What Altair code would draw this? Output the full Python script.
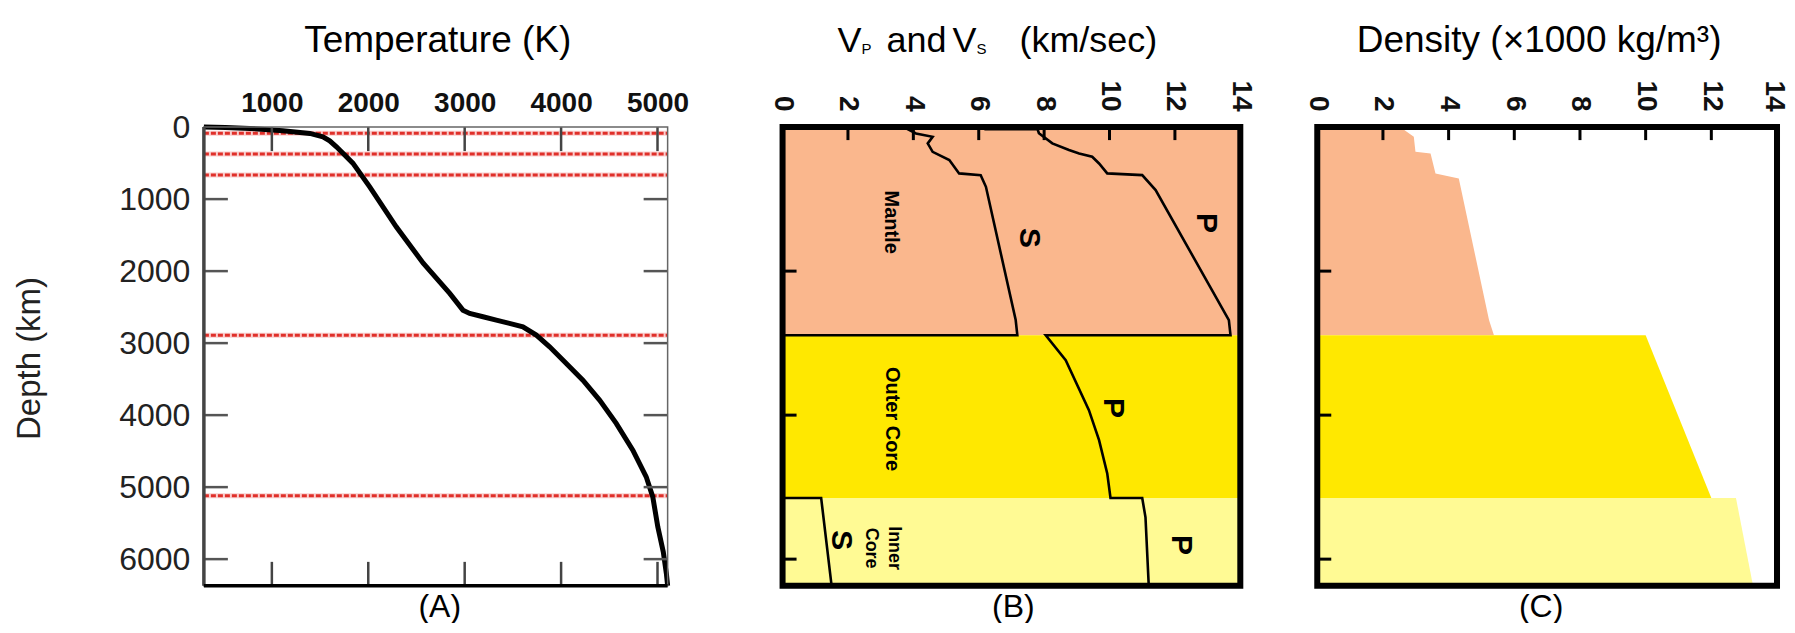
import altair as alt
import pandas as pd

FONT = "Liberation Sans"

# ---------------- data ----------------
# (A) temperature profile
temp_K = [295, 520, 772, 1114, 1394, 1530, 1600, 1670, 1840, 2015, 2290, 2570, 2845, 2982, 3052, 3190,
          3328, 3604, 3743, 3881, 4054, 4226, 4399, 4572, 4744, 4883, 4951, 5003, 5060, 5092, 5105]
temp_depth_km = [0, 6, 18, 51, 88, 134, 190, 273, 500, 830, 1385, 1890, 2310, 2542, 2588, 2634,
                 2680, 2773, 2889, 3051, 3282, 3514, 3792, 4115, 4486, 4857, 5135, 5551, 5900, 6200, 6371]
boundary_depth_km = [85, 375, 665, 2890, 5120]
temp_ticks = [1000, 2000, 3000, 4000, 5000]
depth_labels = [0, 1000, 2000, 3000, 4000, 5000, 6000]
depth_ticks_A = [1000, 2000, 3000, 4000, 5000, 6000]

# (B) seismic velocities
layer_names = ["Mantle", "Outer Core", "Inner Core"]
layer_top_km = [0, 2890, 5150]
layer_bottom_km = [2890, 5150, 6371]
layer_colors = ["#FAB78D", "#FFE800", "#FFFA94"]

vp_depth_km = [0, 30, 30, 85, 226, 319, 366, 412, 505, 643, 667, 875, 2680, 2890, 2890, 3236, 3931,
               4347, 4810, 5150, 5150, 5420, 6371]
vp_kms = [6.0, 6.2, 7.8, 7.84, 8.25, 8.76, 9.07, 9.47, 9.68, 9.93, 11.0, 11.41, 13.65, 13.7, 8.05,
          8.66, 9.37, 9.68, 9.93, 10.03, 11.0, 11.1, 11.2]
vs_depth_km = [0, 18, 88, 134, 227, 343, 458, 643, 667, 829, 2680, 2889, 2890, 5150, 5150, 6371]
vs_kms = [3.5, 3.78, 4.08, 4.59, 4.44, 4.59, 5.10, 5.40, 6.06, 6.22, 7.13, 7.18, 0.0, 0.0, 1.18, 1.5]

b_labels = ["Mantle", "S", "P", "Outer Core", "P", "P", "Inner", "Core", "S"]
b_label_v = [3.32, 7.53, 12.96, 3.35, 10.12, 12.2, 3.41, 2.71, 1.8]
b_label_d = [1320, 1540, 1333, 4055, 3900, 5805, 5847, 5847, 5736]
b_label_fs = [20, 30, 30, 20, 30, 30, 18, 18, 30]

vel_ticks = [0, 2, 4, 6, 8, 10, 12, 14]
inner_ticks = [2, 4, 6, 8, 10, 12]
depth_ticks_BC = [2000, 4000, 6000]

# (C) density
rho_mantle_depth = [0, 40, 134, 343, 366, 643, 713, 2680, 2890]
rho_mantle = [2.6, 2.65, 2.94, 2.99, 3.45, 3.60, 4.31, 5.23, 5.38]
rho_outer_depth = [2890, 5150]
rho_outer = [10.0, 12.0]
rho_inner_depth = [5150, 6371]
rho_inner = [12.75, 13.27]

# title pieces for (B)
b_title_parts = ["V", "P", "and", "V", "S", "(km/sec)"]
b_title_x = [55, 79, 104, 170, 194, 237]
b_title_y = [-75, -73, -75, -75, -73, -75]
b_title_fs = [36, 15, 36, 36, 15, 36]

# ---------------- geometry ----------------
WA, WB, WC, H = 464, 458, 460, 459
EXTRA_A = 38


def one():
    return alt.Data(values=[{}])


def txt(text, x, y, size, angle=0, align="center", baseline="alphabetic", weight="normal", color="black"):
    return alt.Chart(one()).mark_text(
        text=text, fontSize=size, angle=angle, align=align, baseline=baseline,
        fontWeight=weight, color=color, font=FONT
    ).encode(x=alt.value(x), y=alt.value(y))


yD = alt.Scale(domain=[0, 6371], reverse=True, nice=False, zero=False)

# ---------------- panel A ----------------
xT = alt.Scale(domain=[295, 5105], range=[0, WA], nice=False, zero=False)
axT = alt.Axis(orient="top", values=temp_ticks, format="d", title=None, ticks=False, tickSize=0,
               domain=False, grid=False, labelFontSize=28, labelFontWeight="bold", labelColor="#111",
               labelPadding=10, labelFlush=False, labelOverlap=False, labelFont=FONT)
axDA = alt.Axis(orient="left", values=depth_labels, format="d", title=None, ticks=False, tickSize=0,
                domain=False, grid=False, labelFontSize=32, labelColor="#222", labelPadding=14,
                labelFlush=False, labelOverlap=False, labelFont=FONT)

anchor = alt.Chart(one()).mark_rule(strokeOpacity=0, strokeWidth=0.01).encode(
    x=alt.value(-196), x2=alt.value(-196), y=alt.value(-119), y2=alt.value(-119))

dfT = pd.DataFrame({"T": temp_K, "d": temp_depth_km, "i": list(range(len(temp_K)))})
dfB = pd.DataFrame({"d": boundary_depth_km})
dfTT = pd.DataFrame({"T": temp_ticks})
dfDT = pd.DataFrame({"d": depth_ticks_A})

red_halo = alt.Chart(dfB).mark_rule(color="#F4A0A0", strokeWidth=5, opacity=0.5).encode(
    y=alt.Y("d:Q", scale=yD, axis=axDA), x=alt.value(0), x2=alt.value(WA))
red = alt.Chart(dfB).mark_rule(color="#E0302A", strokeWidth=3, strokeDash=[5, 2]).encode(
    y=alt.Y("d:Q", scale=yD, axis=axDA), x=alt.value(0), x2=alt.value(WA))
curve = alt.Chart(dfT).mark_line(color="black", strokeWidth=5).encode(
    x=alt.X("T:Q", scale=xT, axis=axT), y=alt.Y("d:Q", scale=yD, axis=axDA), order="i:Q")
tick_top = alt.Chart(dfTT).mark_rule(color="#444", strokeWidth=2.5).encode(
    x=alt.X("T:Q", scale=xT, axis=axT), y=alt.value(0), y2=alt.value(24))
tick_bot = alt.Chart(dfTT).mark_rule(color="#444", strokeWidth=2.5).encode(
    x=alt.X("T:Q", scale=xT, axis=axT), y=alt.value(H - 24), y2=alt.value(H))
tick_left = alt.Chart(dfDT).mark_rule(color="#555", strokeWidth=2.5).encode(
    y=alt.Y("d:Q", scale=yD, axis=axDA), x=alt.value(0), x2=alt.value(24))
tick_right = alt.Chart(dfDT).mark_rule(color="#555", strokeWidth=2.5).encode(
    y=alt.Y("d:Q", scale=yD, axis=axDA), x=alt.value(WA - 24), x2=alt.value(WA))
frameA = alt.Chart(one()).mark_rect(fillOpacity=0, stroke="#666", strokeWidth=1.5).encode(
    x=alt.value(0), x2=alt.value(WA), y=alt.value(0), y2=alt.value(H))
leftA = alt.Chart(one()).mark_rule(color="#444", strokeWidth=3.5).encode(
    x=alt.value(0), x2=alt.value(0), y=alt.value(0), y2=alt.value(H))
botA = alt.Chart(one()).mark_rule(color="black", strokeWidth=3.5).encode(
    x=alt.value(0), x2=alt.value(WA), y=alt.value(H), y2=alt.value(H))

panelA = alt.layer(
    anchor, red_halo, red, curve, tick_top, tick_bot, tick_left, tick_right, frameA, leftA, botA,
    txt("Temperature (K)", 234, -75, 37),
    txt("Depth (km)", -174, H / 2 + 2, 33, angle=270, baseline="middle", color="#222"),
    txt("(A)", 236, H + 31, 32),
).properties(width=WA + EXTRA_A, height=H)

# ---------------- panel B ----------------
xV = alt.Scale(domain=[0, 14], nice=False, zero=False)


def vel_axis(last_shift):
    return alt.Axis(orient="top", values=vel_ticks, title=None, ticks=False, tickSize=0, domain=False,
                    grid=False, labelAngle=90, labelAlign="right", labelBaseline="middle",
                    labelFontSize=28, labelFontWeight="bold", labelColor="#111", labelPadding=16,
                    labelFlush=False, labelOverlap=False, labelFont=FONT,
                    labelOffset=alt.ExprRef(expr=f"datum.value == 14 ? {last_shift} : 0"))


axV = vel_axis(0)
axVC = vel_axis(-4)

dfL = pd.DataFrame({"name": layer_names, "top": layer_top_km, "bottom": layer_bottom_km})
fills = alt.Chart(dfL).mark_rect().encode(
    y=alt.Y("top:Q", scale=yD, axis=None), y2="bottom:Q",
    x=alt.value(0), x2=alt.value(WB),
    color=alt.Color("name:N", scale=alt.Scale(domain=layer_names, range=layer_colors), legend=None))

dfV = pd.concat([
    pd.DataFrame({"v": vp_kms, "d": vp_depth_km, "wave": "P", "i": list(range(len(vp_kms)))}),
    pd.DataFrame({"v": vs_kms, "d": vs_depth_km, "wave": "S", "i": list(range(len(vs_kms)))}),
], ignore_index=True)
vlines = alt.Chart(dfV).mark_line(color="black", strokeWidth=2.6).encode(
    x=alt.X("v:Q", scale=xV, axis=axV), y=alt.Y("d:Q", scale=yD, axis=None),
    detail="wave:N", order="i:Q")

dfBL = pd.DataFrame({"lab": b_labels, "v": b_label_v, "d": b_label_d, "fs": b_label_fs})
blabels = alt.Chart(dfBL).mark_text(angle=90, fontWeight="bold", align="center", baseline="middle",
                                    font=FONT, color="black").encode(
    x=alt.X("v:Q", scale=xV, axis=axV), y=alt.Y("d:Q", scale=yD, axis=None),
    text="lab:N", size=alt.Size("fs:Q", scale=None))


def ticks_bc(W, ax):
    dft = pd.DataFrame({"v": inner_ticks})
    dfd = pd.DataFrame({"d": depth_ticks_BC})
    top = alt.Chart(dft).mark_rule(color="black", strokeWidth=3).encode(
        x=alt.X("v:Q", scale=xV, axis=ax), y=alt.value(0), y2=alt.value(13))
    left = alt.Chart(dfd).mark_rule(color="black", strokeWidth=3).encode(
        y=alt.Y("d:Q", scale=yD, axis=None), x=alt.value(0), x2=alt.value(14))
    frame = alt.Chart(one()).mark_rect(fillOpacity=0, stroke="black", strokeWidth=6).encode(
        x=alt.value(0), x2=alt.value(W), y=alt.value(0), y2=alt.value(H))
    return [top, left, frame]


b_title = [txt(p, x, y, fs, align="left") for p, x, y, fs in
           zip(b_title_parts, b_title_x, b_title_y, b_title_fs)]

panelB = alt.layer(
    fills, vlines, blabels, *ticks_bc(WB, axV), *b_title, txt("(B)", 231, H + 31, 32)
).properties(width=WB, height=H)

# ---------------- panel C ----------------
dfR = pd.concat([
    pd.DataFrame({"rho": rho_mantle, "d": rho_mantle_depth, "name": "Mantle"}),
    pd.DataFrame({"rho": rho_outer, "d": rho_outer_depth, "name": "Outer Core"}),
    pd.DataFrame({"rho": rho_inner, "d": rho_inner_depth, "name": "Inner Core"}),
], ignore_index=True)
areas = alt.Chart(dfR).mark_area(orient="horizontal", interpolate="linear").encode(
    x=alt.X("rho:Q", scale=xV, axis=axVC, stack=None),
    y=alt.Y("d:Q", scale=yD, axis=None),
    color=alt.Color("name:N", scale=alt.Scale(domain=layer_names, range=layer_colors), legend=None),
    detail="name:N")

panelC = alt.layer(
    areas, *ticks_bc(WC, axVC),
    txt("Density (\u00d71000 kg/m\u00b3)", 222, -75, 37),
    txt("(C)", 224, H + 31, 32),
).properties(width=WC, height=H)

chart = alt.hconcat(panelA, panelB, panelC, spacing=77, bounds="flush", padding=0).configure(
    font=FONT).configure_view(strokeWidth=0)

chart.save("out.html", embed_options={"renderer": "svg", "actions": False})
